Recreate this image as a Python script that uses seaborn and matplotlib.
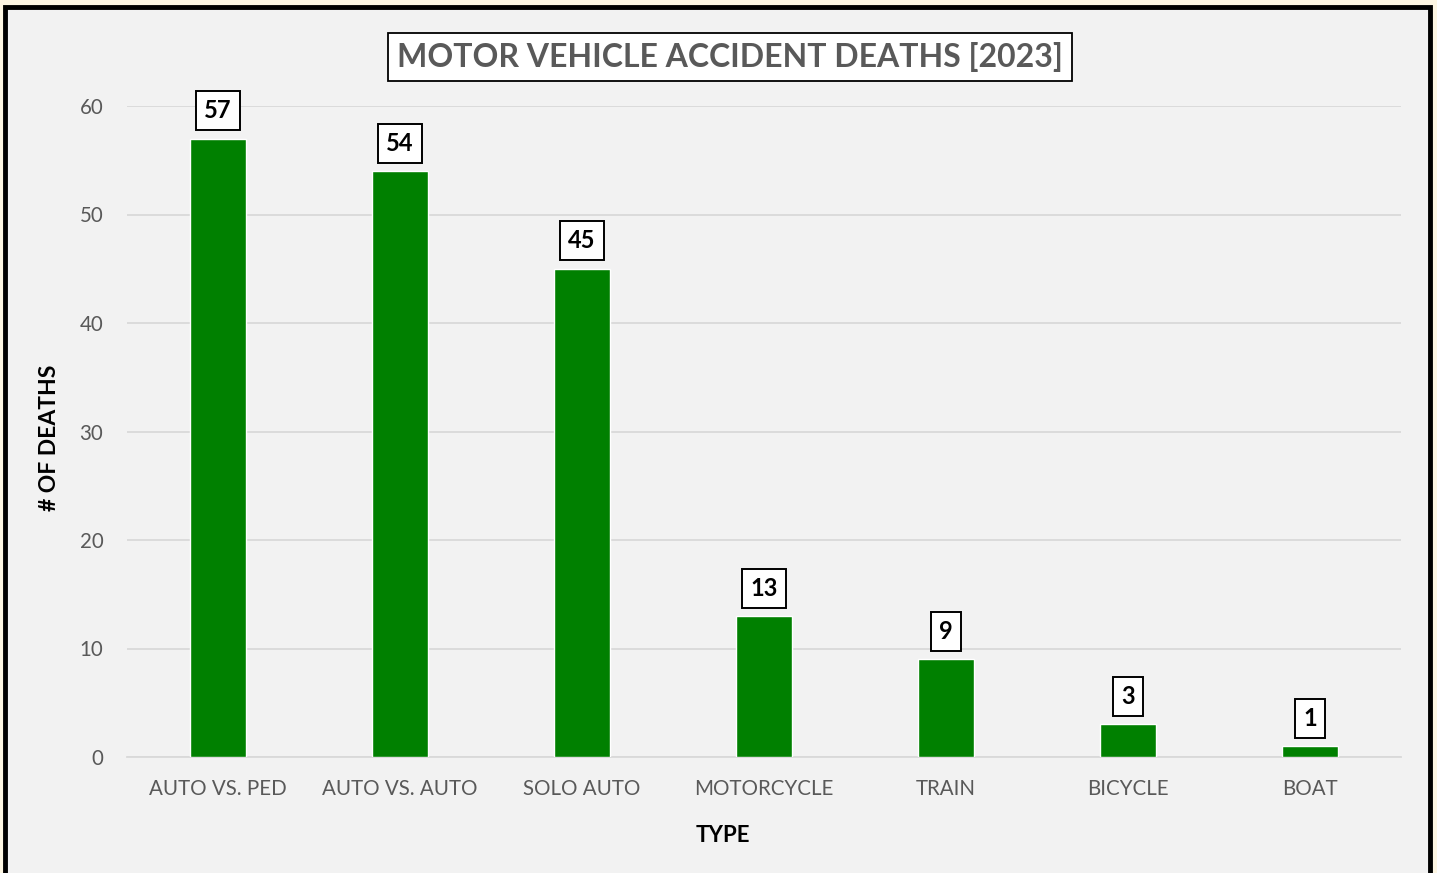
import matplotlib
matplotlib.use("Agg")
import matplotlib.pyplot as plt
import matplotlib.patches as mpatches
import seaborn as sns
import pandas as pd

# Dados do gráfico
tipos = ["AUTO VS. PED", "AUTO VS. AUTO", "SOLO AUTO", "MOTORCYCLE", "TRAIN", "BICYCLE", "BOAT"]
mortes = [57, 54, 45, 13, 9, 3, 1]
y_ticks = [0, 10, 20, 30, 40, 50, 60]

df = pd.DataFrame({"Tipo": tipos, "Mortes": mortes})

sns.set_style("white")
plt.rcParams["font.family"] = ["Lato", "DejaVu Sans"]

W, H = 1437, 873
fig = plt.figure(figsize=(W / 100, H / 100), dpi=100)
fig.patch.set_facecolor("#fdf6e3")

# Moldura do cartão
moldura = mpatches.Rectangle((5 / W, -0.02), 1425 / W, (H - 7) / H + 0.02,
                             transform=fig.transFigure, facecolor="#f2f2f2",
                             edgecolor="black", linewidth=3.5, zorder=-1)
fig.patches.append(moldura)

ax = fig.add_axes([127 / W, 116 / H, 1274 / W, 651 / H])
ax.set_facecolor("none")

sns.barplot(data=df, x="Tipo", y="Mortes", color="#008000", saturation=1,
            width=0.31, ax=ax, zorder=3)

ax.set_xlim(-0.5, len(tipos) - 0.5)
ax.set_ylim(0, 60)
ax.set_yticks(y_ticks)
ax.grid(axis="y", color="#d9d9d9", linewidth=1.3, zorder=0)
for s in ["left", "right", "top"]:
    ax.spines[s].set_visible(False)
ax.spines["bottom"].set_color("#d9d9d9")
ax.spines["bottom"].set_linewidth(1.3)
ax.tick_params(axis="both", length=0, labelsize=14.8, labelcolor="#595959")
ax.tick_params(axis="x", pad=16)
ax.tick_params(axis="y", pad=17)

ax.set_xlabel("TYPE", fontsize=16, fontweight="bold", color="black")
ax.set_ylabel("# OF DEATHS", fontsize=16.5, fontweight="bold", color="black")
ax.xaxis.set_label_coords((723 - 127) / 1274, -(835 - 757) / 651)
ax.yaxis.set_label_coords(-(127 - 49) / 1274, (757 - 438) / 651)
ax.xaxis.label.set_va("center")
ax.yaxis.label.set_va("center")

# Rótulos de valor em caixas
for i, v in enumerate(mortes):
    ax.annotate(str(v), xy=(i, v), xytext=(0, 20), textcoords="offset points",
                ha="center", va="center", fontsize=17, fontweight="bold", color="black",
                bbox=dict(boxstyle="square,pad=0.34", facecolor="white",
                          edgecolor="black", linewidth=1.4), zorder=5)

# Título em caixa
fig.text(730 / W, 1 - 57 / H, "MOTOR VEHICLE ACCIDENT DEATHS [2023]",
         ha="center", va="center", fontsize=23, fontweight="bold", color="#595959",
         bbox=dict(boxstyle="square,pad=0.28", facecolor="white",
                   edgecolor="black", linewidth=1.3))

fig.savefig("out.png", dpi=100, facecolor=fig.get_facecolor())
